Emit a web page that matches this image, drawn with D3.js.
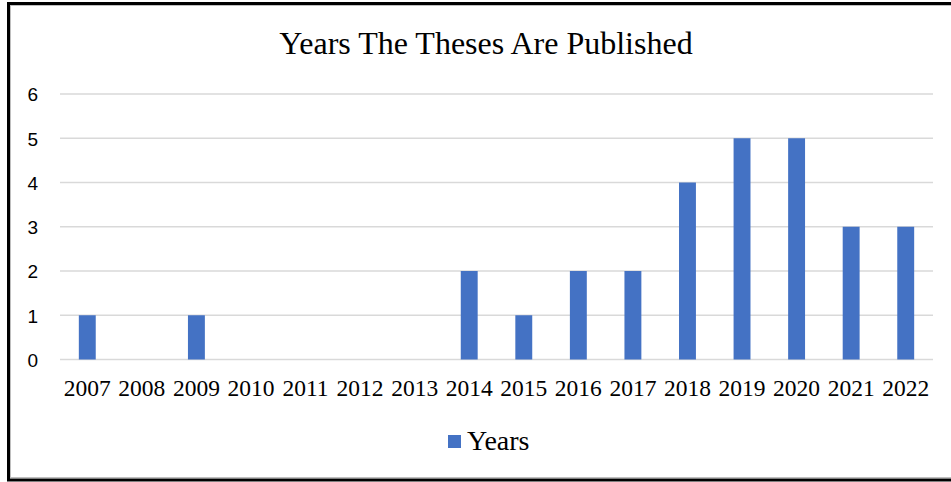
<!DOCTYPE html>
<html><head><meta charset="utf-8">
<script src="https://cdn.jsdelivr.net/npm/d3@7"></script>
<style>body{margin:0;background:#fff}svg{display:block}</style>
</head><body>
<svg id="chart" width="951" height="482"></svg>
<script>
const categories = ["2007","2008","2009","2010","2011","2012","2013","2014","2015","2016","2017","2018","2019","2020","2021","2022"];
const values = [1,0,1,0,0,0,0,2,1,2,2,4,5,5,3,3];
const yTicks = [0,1,2,3,4,5,6];
const title = "Years The Theses Are Published";
const seriesName = "Years";

(function(){
const svg = d3.select("#chart");
const W = 951, H = 482;
const pLeft = 60, pRight = 933, pTop = 94, pBottom = 359.5;
const barColor = "#4472c4";

// borders
svg.append("rect").attr("x",10.5).attr("y",5.5).attr("width",W).attr("height",472)
  .attr("fill","none").attr("stroke","#bfbfbf").attr("stroke-width",1);
svg.append("rect").attr("x",8.5).attr("y",3.5).attr("width",W+10).attr("height",476.5)
  .attr("fill","none").attr("stroke","#000").attr("stroke-width",3);

const x = d3.scaleBand().domain(categories).range([pLeft,pRight]).paddingInner(0.69).paddingOuter(0.345);
const y = d3.scaleLinear().domain([0,6]).range([pBottom,pTop]);

// gridlines
svg.append("g").selectAll("line").data(yTicks).join("line")
  .attr("x1",pLeft).attr("x2",pRight)
  .attr("y1",d=>y(d)).attr("y2",d=>y(d))
  .attr("stroke","#d9d9d9").attr("stroke-width",1.5);

// y labels
const yAxis = d3.axisLeft(y).tickValues(yTicks).tickFormat(d3.format("d")).tickSize(0).tickPadding(0);
const gy = svg.append("g").attr("transform","translate(38,0)").call(yAxis);
gy.select(".domain").remove();
gy.selectAll("text").attr("font-family","'Liberation Sans', Arial, sans-serif").attr("font-size",19).attr("fill","#000").attr("dy","0.36em");

// bars
svg.append("g").selectAll("rect").data(values).join("rect")
  .attr("x",(d,i)=>x(categories[i]))
  .attr("width",x.bandwidth())
  .attr("y",d=>y(d))
  .attr("height",d=>y(0)-y(d))
  .attr("fill",barColor);

// x labels
const xAxis = d3.axisBottom(x).tickSize(0).tickPadding(0);
const gx = svg.append("g").attr("transform",`translate(0,${pBottom})`).call(xAxis);
gx.select(".domain").remove();
gx.selectAll("text").attr("font-family","'Liberation Serif', 'Times New Roman', serif").attr("font-size",23.5).attr("fill","#000").attr("dy",0).attr("y",36);

// title
svg.append("text").attr("x",486).attr("y",54).attr("text-anchor","middle")
  .attr("font-family","'Liberation Serif', 'Times New Roman', serif").attr("font-size",32).attr("fill","#000")
  .text(title);

// legend
svg.append("rect").attr("x",448).attr("y",435).attr("width",13).attr("height",13).attr("fill",barColor);
svg.append("text").attr("x",467).attr("y",450)
  .attr("font-family","'Liberation Serif', 'Times New Roman', serif").attr("font-size",28).attr("fill","#000")
  .text(seriesName);
})();
</script>
</body></html>
